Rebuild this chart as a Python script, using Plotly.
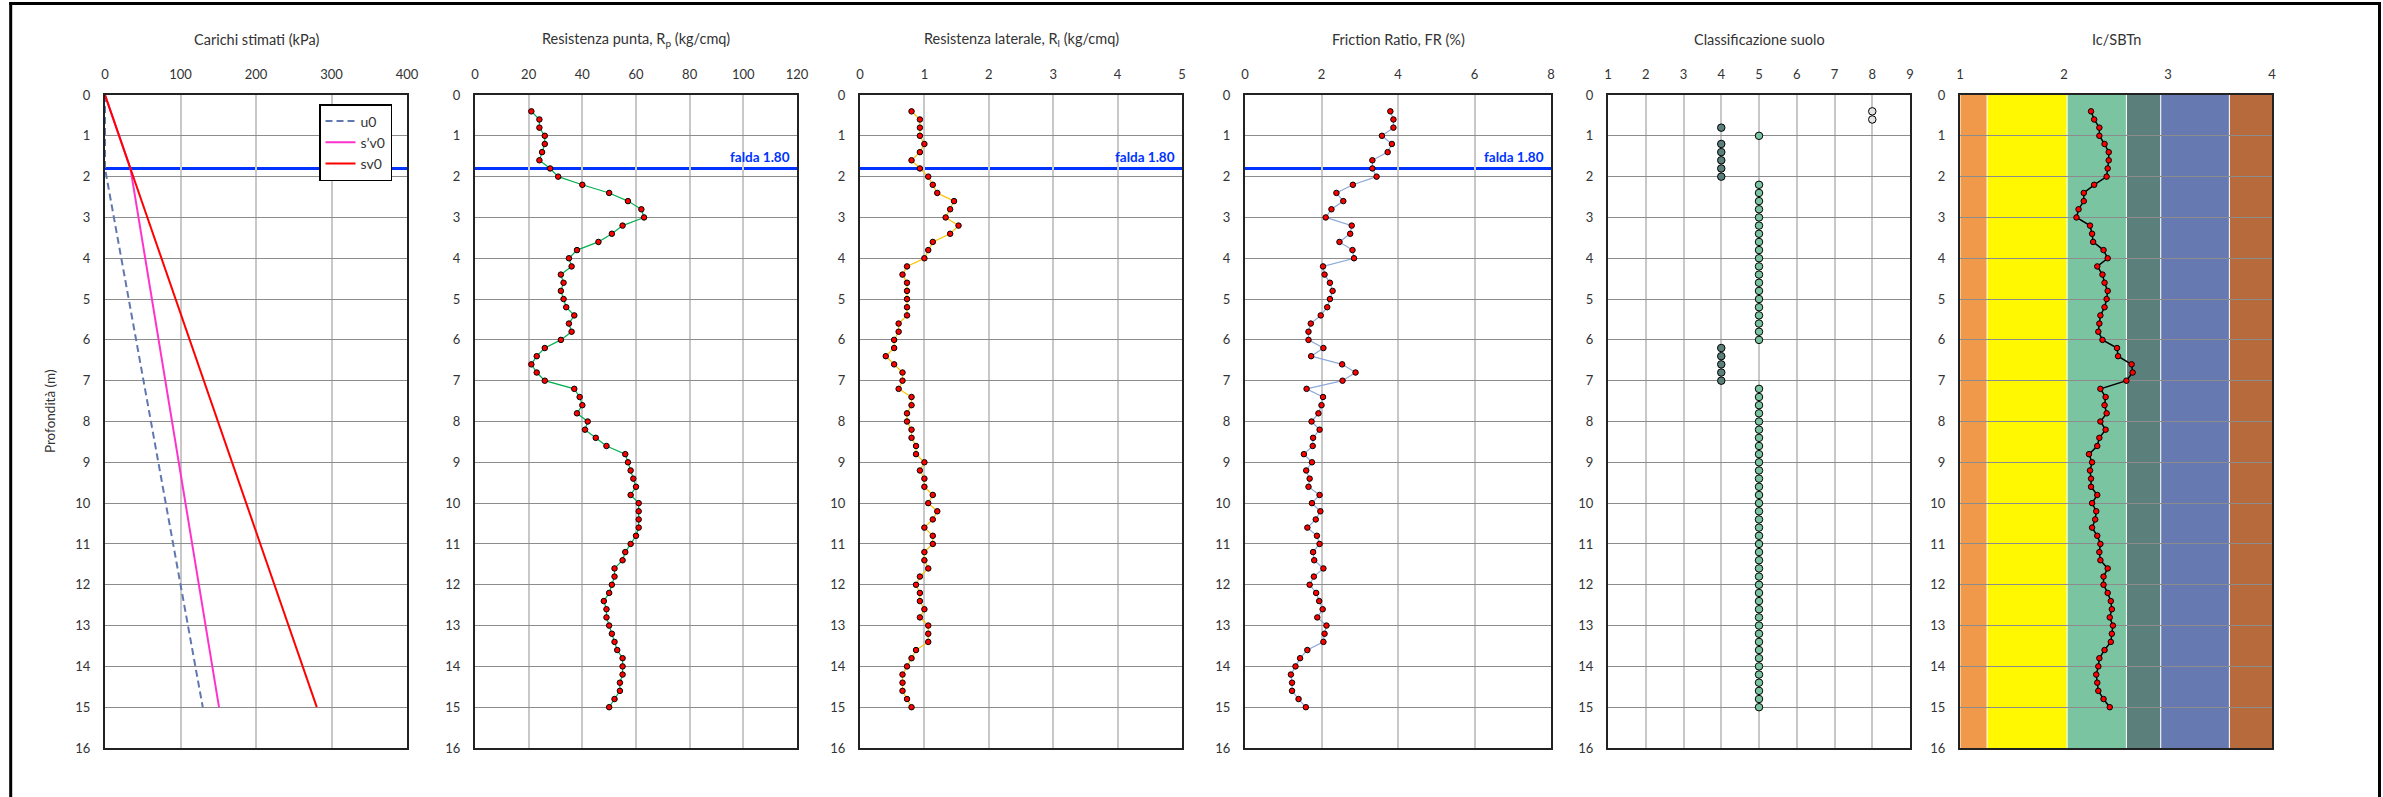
import plotly.graph_objects as go

W, H = 2383, 797

# ---------------- data ----------------
depth = [0.4, 0.6, 0.8, 1.0, 1.2, 1.4, 1.6, 1.8,
         2.0, 2.2, 2.4, 2.6, 2.8, 3.0, 3.2, 3.4, 3.6, 3.8,
         4.0, 4.2, 4.4, 4.6, 4.8, 5.0, 5.2, 5.4, 5.6, 5.8,
         6.0, 6.2, 6.4, 6.6, 6.8, 7.0, 7.2, 7.4, 7.6, 7.8,
         8.0, 8.2, 8.4, 8.6, 8.8, 9.0, 9.2, 9.4, 9.6, 9.8,
         10.0, 10.2, 10.4, 10.6, 10.8, 11.0, 11.2, 11.4, 11.6, 11.8,
         12.0, 12.2, 12.4, 12.6, 12.8, 13.0, 13.2, 13.4, 13.6, 13.8,
         14.0, 14.2, 14.4, 14.6, 14.8, 15.0]

rp = [21, 24, 24, 26, 26, 25, 24, 28,
      31, 40, 50, 57, 62, 63, 55, 51, 46, 38,
      35, 36, 32, 33, 32, 33, 34, 37, 35, 36,
      32, 26, 23, 21, 23, 26, 37, 39, 40, 38,
      42, 41, 45, 49, 56, 57, 58, 59, 60, 58,
      61, 61, 61, 61, 60, 58, 56, 55, 52, 52,
      51, 50, 48, 49, 49, 50, 51, 52, 53, 55,
      55, 55, 54, 54, 52, 50]

rl = [0.80, 0.93, 0.93, 0.93, 1.00, 0.93, 0.80, 0.93,
      1.06, 1.13, 1.20, 1.46, 1.40, 1.33, 1.53, 1.40, 1.13, 1.06,
      1.00, 0.73, 0.66, 0.73, 0.73, 0.73, 0.73, 0.73, 0.60, 0.60,
      0.53, 0.53, 0.40, 0.53, 0.66, 0.66, 0.60, 0.80, 0.80, 0.73,
      0.73, 0.80, 0.80, 0.87, 0.87, 1.00, 0.93, 1.00, 1.00, 1.13,
      1.06, 1.20, 1.13, 1.00, 1.13, 1.13, 1.00, 1.00, 1.06, 0.93,
      0.87, 0.93, 0.93, 1.00, 0.93, 1.06, 1.06, 1.06, 0.87, 0.80,
      0.73, 0.66, 0.66, 0.66, 0.73, 0.80]

fr = [3.80, 3.88, 3.88, 3.58, 3.84, 3.73, 3.33, 3.33,
      3.44, 2.82, 2.39, 2.57, 2.26, 2.11, 2.79, 2.75, 2.47, 2.81,
      2.85, 2.04, 2.08, 2.22, 2.29, 2.22, 2.15, 1.98, 1.72, 1.66,
      1.66, 2.05, 1.73, 2.54, 2.89, 2.55, 1.61, 2.04, 2.00, 1.92,
      1.74, 1.95, 1.78, 1.77, 1.54, 1.75, 1.60, 1.69, 1.66, 1.95,
      1.75, 1.97, 1.85, 1.63, 1.88, 1.95, 1.78, 1.81, 2.05, 1.80,
      1.69, 1.86, 1.94, 2.03, 1.89, 2.13, 2.08, 2.05, 1.63, 1.44,
      1.32, 1.20, 1.23, 1.23, 1.40, 1.59]

soil_class = [8, 8, 4, 5, 4, 4, 4, 4,
              4, 5, 5, 5, 5, 5, 5, 5, 5, 5,
              5, 5, 5, 5, 5, 5, 5, 5, 5, 5,
              5, 4, 4, 4, 4, 4, 5, 5, 5, 5,
              5, 5, 5, 5, 5, 5, 5, 5, 5, 5,
              5, 5, 5, 5, 5, 5, 5, 5, 5, 5,
              5, 5, 5, 5, 5, 5, 5, 5, 5, 5,
              5, 5, 5, 5, 5, 5]

ic = [2.26, 2.29, 2.34, 2.34, 2.39, 2.43, 2.43, 2.42,
      2.41, 2.29, 2.19, 2.19, 2.14, 2.12, 2.25, 2.27, 2.28, 2.38,
      2.42, 2.32, 2.37, 2.39, 2.42, 2.41, 2.39, 2.35, 2.34, 2.33,
      2.37, 2.51, 2.52, 2.65, 2.66, 2.60, 2.35, 2.40, 2.39, 2.41,
      2.35, 2.40, 2.34, 2.32, 2.24, 2.27, 2.25, 2.26, 2.26, 2.32,
      2.27, 2.31, 2.30, 2.27, 2.32, 2.35, 2.34, 2.35, 2.42, 2.38,
      2.38, 2.42, 2.45, 2.46, 2.44, 2.47, 2.46, 2.45, 2.39, 2.34,
      2.33, 2.31, 2.32, 2.33, 2.38, 2.44]

load_depth = [0, 1.8, 15]
u0 = [0, 0, 129.5]
sv0_eff = [0, 33.7, 151]
sv0 = [0, 33.7, 280.5]

falda = 1.80

ic_bounds = [1.0, 1.26, 2.03, 2.60, 2.93, 3.59, 4.0]
ic_colors = ["#F0994A", "#FFF800", "#7AC4A2", "#5B807C", "#6679B0", "#B76B3D"]
class_colors = {4: "#5B807C", 5: "#7AC4A1", 8: "#E4E4E4"}

titles = ["Carichi stimati (kPa)", "Resistenza punta, R<sub>p</sub> (kg/cmq)",
          "Resistenza laterale, R<sub>l</sub> (kg/cmq)", "Friction Ratio, FR (%)",
          "Classificazione suolo", "Ic/SBTn"]

# ---------------- layout geometry ----------------
FONT = "Lato"
TXT = "#333333"
panel_px = [(105, 407), (475, 797), (860, 1182), (1245, 1551), (1608, 1910), (1960, 2272)]
x_ranges = [(0, 400), (0, 120), (0, 5), (0, 8), (1, 9), (1, 4)]
x_dticks = [100, 20, 1, 2, 1, 1]
y_top_px, y_bot_px = 95, 748
ydom = [1 - y_bot_px / H, 1 - y_top_px / H]

fig = go.Figure()

# panel 1
fig.add_trace(go.Scatter(x=u0, y=load_depth, mode="lines", name="u0",
                         line=dict(color="#6077B0", width=2, dash="7px,4px"),
                         xaxis="x", yaxis="y"))
fig.add_trace(go.Scatter(x=sv0_eff, y=load_depth, mode="lines", name="s’v0",
                         line=dict(color="#FF33CC", width=2), xaxis="x", yaxis="y"))
fig.add_trace(go.Scatter(x=sv0, y=load_depth, mode="lines", name="sv0",
                         line=dict(color="#FF0000", width=2), xaxis="x", yaxis="y"))

mk = dict(color="#FF0000", size=5.5, line=dict(color="#000000", width=1))
fig.add_trace(go.Scatter(x=rp, y=depth, mode="lines+markers", showlegend=False,
                         line=dict(color="#00B050", width=1.2), marker=mk,
                         xaxis="x2", yaxis="y2"))
fig.add_trace(go.Scatter(x=rl, y=depth, mode="lines+markers", showlegend=False,
                         line=dict(color="#FFC000", width=1.2), marker=mk,
                         xaxis="x3", yaxis="y3"))
fig.add_trace(go.Scatter(x=fr, y=depth, mode="lines+markers", showlegend=False,
                         line=dict(color="#8EA9DB", width=1.2), marker=mk,
                         xaxis="x4", yaxis="y4"))
fig.add_trace(go.Scatter(x=soil_class, y=depth, mode="markers", showlegend=False,
                         marker=dict(color=[class_colors[c] for c in soil_class], size=7.5,
                                     line=dict(color="#000000", width=1)),
                         xaxis="x5", yaxis="y5"))
fig.add_trace(go.Scatter(x=ic, y=depth, mode="lines+markers", showlegend=False,
                         line=dict(color="#000000", width=1.5), marker=mk,
                         xaxis="x6", yaxis="y6"))

layout = dict(
    width=W, height=H, margin=dict(l=0, r=0, t=0, b=0, pad=0, autoexpand=False),
    paper_bgcolor="white", plot_bgcolor="white",
    font=dict(family=FONT, size=13, color=TXT),
    showlegend=True,
    legend=dict(x=319 / W, y=1 - 104 / H, xanchor="left", yanchor="top",
                bgcolor="white", bordercolor="#000000", borderwidth=1.5,
                font=dict(family=FONT, size=14, color=TXT), tracegroupgap=0,
                itemwidth=30),
)

annotations = []
shapes = []
for i, ((l, r), xr, dt) in enumerate(zip(panel_px, x_ranges, x_dticks), start=1):
    sfx = "" if i == 1 else str(i)
    layout["xaxis" + sfx] = dict(
        domain=[l / W, r / W], range=list(xr), dtick=dt, tick0=xr[0], side="top",
        anchor="y" + sfx, showgrid=(i != 6), gridcolor="#C8C8C8", gridwidth=1.5,
        showline=True, linecolor="#222222", linewidth=2, mirror=True,
        zeroline=False, ticks="", ticklabelstandoff=9, automargin=False,
        tickfont=dict(family=FONT, size=13, color=TXT), fixedrange=True)
    layout["yaxis" + sfx] = dict(
        domain=ydom, range=[16, 0], dtick=1, tick0=0, anchor="x" + sfx,
        showgrid=True, gridcolor="#8C8C8C", gridwidth=1.2,
        showline=True, linecolor="#222222", linewidth=2, mirror=True,
        zeroline=False, ticks="", ticklabelstandoff=10, automargin=False,
        tickfont=dict(family=FONT, size=13, color=TXT), fixedrange=True)
    annotations.append(dict(text=titles[i - 1], x=(l + r) / 2 / W, y=1 - 40 / H,
                            xref="paper", yref="paper", showarrow=False,
                            xanchor="center", yanchor="middle",
                            font=dict(family=FONT, size=14.5, color=TXT)))
    if i <= 4:
        shapes.append(dict(type="line", xref="x" + sfx, yref="y" + sfx,
                           x0=xr[0], x1=xr[1], y0=falda, y1=falda, layer="below",
                           line=dict(color="#0033FF", width=3)))
    if 2 <= i <= 4:
        annotations.append(dict(text="<b>falda %.2f</b>" % falda,
                                x=xr[0] + 0.985 * (xr[1] - xr[0]), y=falda,
                                xref="x" + sfx, yref="y" + sfx,
                                showarrow=False, xanchor="right", yanchor="bottom",
                                yshift=1, font=dict(family=FONT, size=13.5, color="#0033FF")))

# Ic/SBTn background bands
for b0, b1, c in zip(ic_bounds[:-1], ic_bounds[1:], ic_colors):
    shapes.append(dict(type="rect", xref="x6", yref="y6", x0=b0, x1=b1, y0=16, y1=0,
                       fillcolor=c, line=dict(width=0), layer="below"))
    shapes.append(dict(type="line", xref="x6", yref="y6", x0=b0, x1=b0, y0=16, y1=0,
                       line=dict(color="white", width=1), layer="below"))

# outer frame: left, top and right edges (bottom edge is off the page)
fx0, fx1, fy = 10.7 / W, 2379.5 / W, 1 - 3.5 / H
frame = dict(type="line", xref="paper", yref="paper", layer="above",
             line=dict(color="#000000", width=3))
shapes.append(dict(frame, x0=fx0, x1=fx0, y0=0, y1=fy + 1.5 / H))
shapes.append(dict(frame, x0=fx0 - 1.5 / W, x1=fx1 + 1.5 / W, y0=fy, y1=fy))
shapes.append(dict(frame, x0=fx1, x1=fx1, y0=0, y1=fy + 1.5 / H))

annotations.append(dict(text="Profondità (m)", x=50 / W, y=1 - 411 / H, xref="paper",
                        yref="paper", showarrow=False, textangle=-90,
                        xanchor="center", yanchor="middle",
                        font=dict(family=FONT, size=13.5, color=TXT)))

layout["annotations"] = annotations
layout["shapes"] = shapes
fig.update_layout(**layout)

fig.write_html("out.html")
